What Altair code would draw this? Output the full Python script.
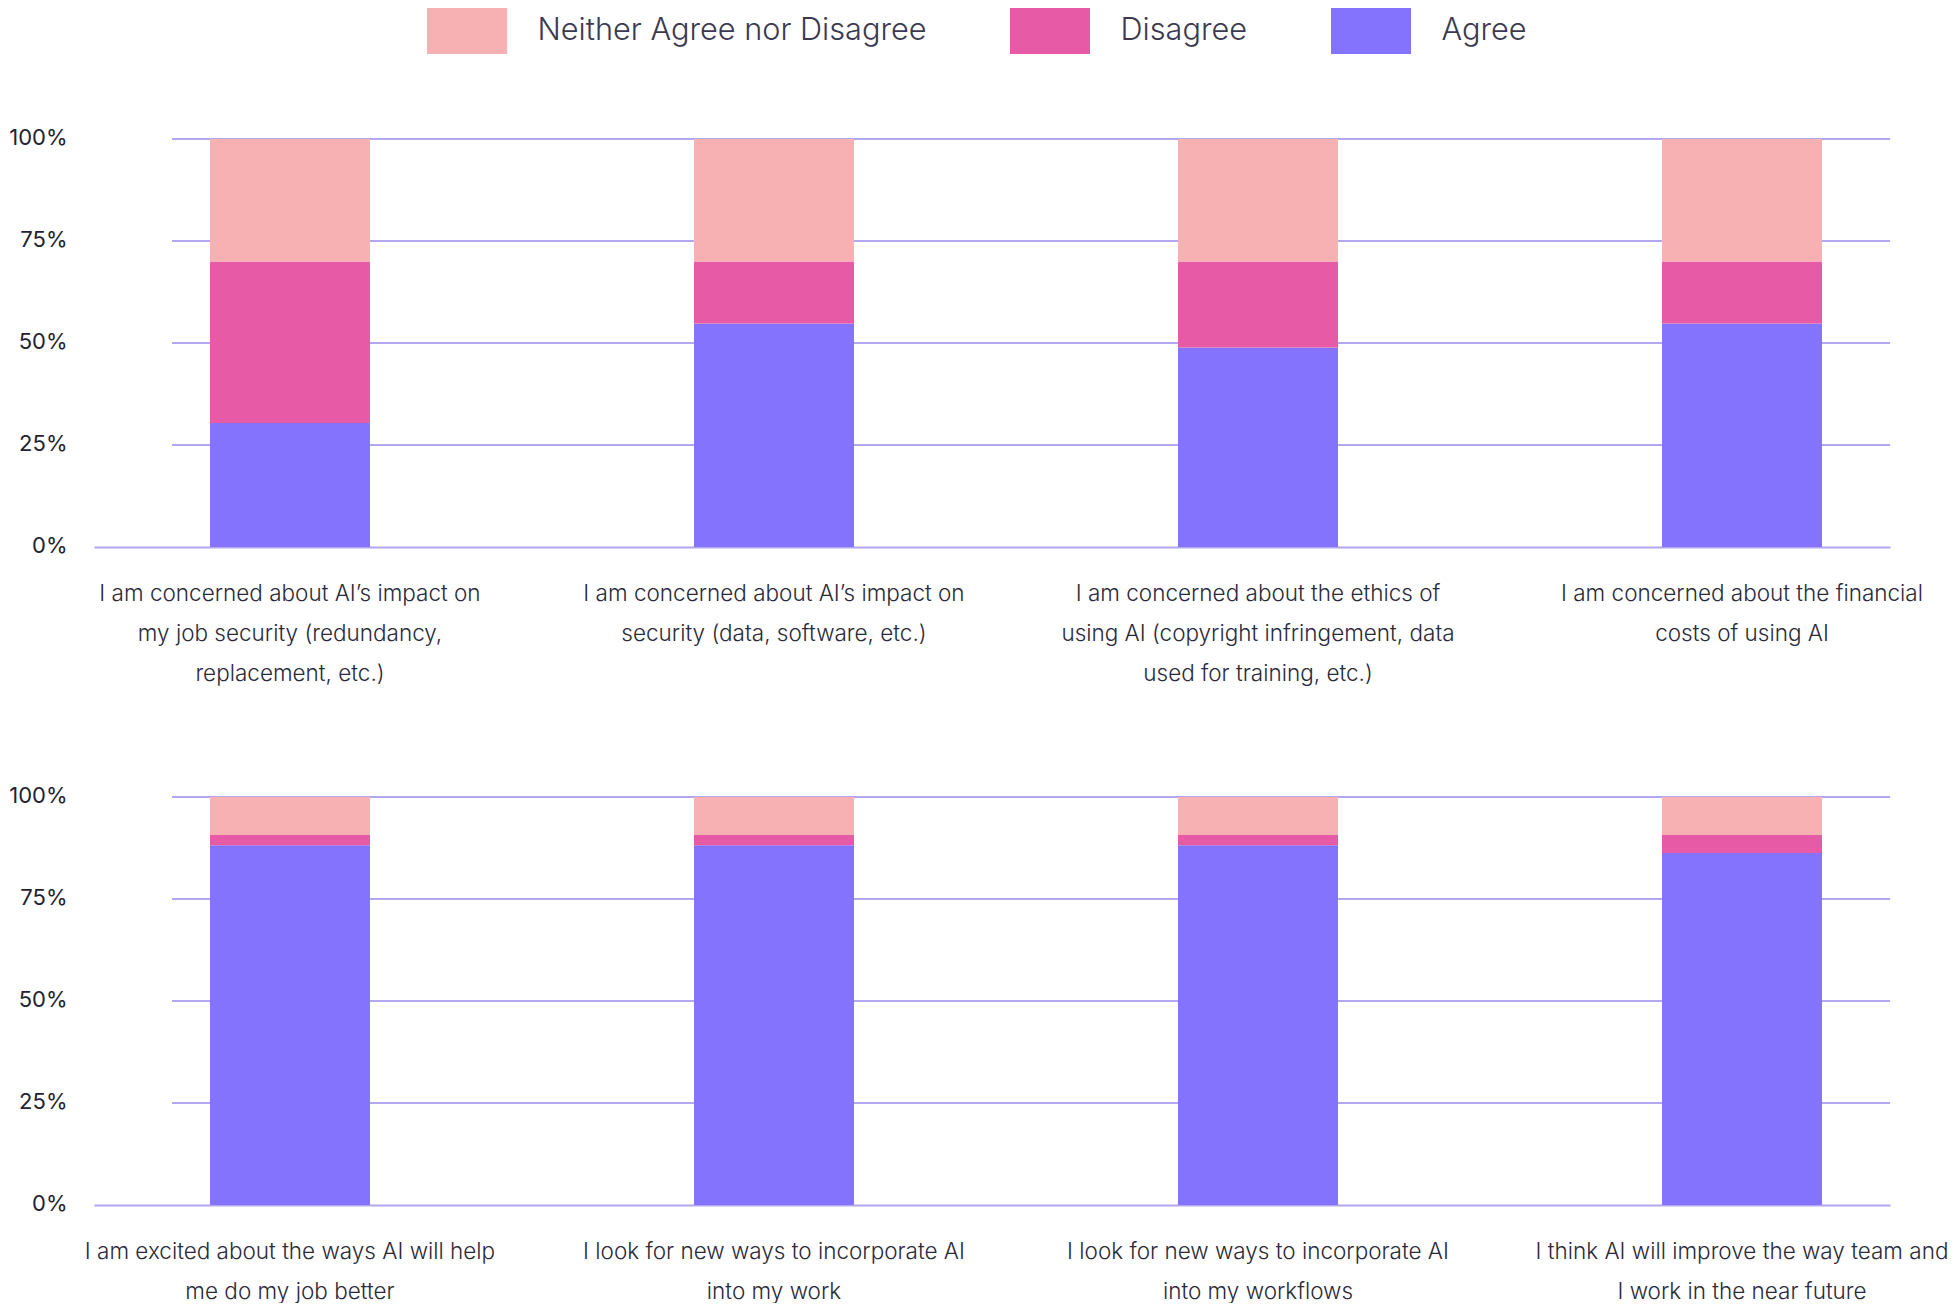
import altair as alt
import pandas as pd

# ---- data ----
series = ["Neither Agree nor Disagree", "Disagree", "Agree"]
series_colors = ["#F8B1B2", "#E75AA5", "#8373FD"]

top_categories = [
    "I am concerned about AI’s impact on|my job security (redundancy,|replacement, etc.)",
    "I am concerned about AI’s impact on|security (data, software, etc.)",
    "I am concerned about the ethics of|using AI (copyright infringement, data|used for training, etc.)",
    "I am concerned about the financial|costs of using AI",
]
top_agree = [30.4, 54.8, 48.9, 54.8]
top_disagree = [39.6, 15.2, 21.1, 15.2]
top_neither = [30.0, 30.0, 30.0, 30.0]

bottom_categories = [
    "I am excited about the ways AI will help|me do my job better",
    "I look for new ways to incorporate AI|into my work",
    "I look for new ways to incorporate AI|into my workflows",
    "I think AI will improve the way team and|I work in the near future",
]
bottom_agree = [88.2, 88.2, 88.2, 86.3]
bottom_disagree = [2.5, 2.5, 2.5, 4.4]
bottom_neither = [9.3, 9.3, 9.3, 9.3]

grid_values = [25, 50, 75, 100]
y_ticks = [0, 25, 50, 75, 100]

# ---- style ----
W, H = 1796, 408
GRID = "#B3A8F0"
FONT = "Inter"

y_scale = alt.Scale(domain=[0, 100], nice=False, zero=True)
y_axis = alt.Axis(
    values=y_ticks, labelExpr="datum.value + '%'", title=None,
    domain=False, ticks=False, grid=False,
    labelFont=FONT, labelFontSize=22, labelColor="#222230",
    labelPadding=27, labelOffset=-2,
)


def panel(cats, agree, disagree, neither):
    rows = []
    for i, c in enumerate(cats):
        for resp, val, o in [("Agree", agree[i], 0),
                             ("Disagree", disagree[i], 1),
                             ("Neither Agree nor Disagree", neither[i], 2)]:
            rows.append({"question": c, "response": resp, "value": val, "order": o})
    df = pd.DataFrame(rows)

    grid = alt.Chart(pd.DataFrame({"value": grid_values})).mark_rule(
        color=GRID, strokeWidth=2
    ).encode(
        y=alt.Y("value:Q", scale=y_scale, axis=y_axis),
        x=alt.value(78),
        x2=alt.value(W),
    )

    bars = alt.Chart(df).mark_bar(strokeWidth=0).encode(
        x=alt.X(
            "question:N", sort=cats,
            scale=alt.Scale(paddingInner=0.66942, paddingOuter=0.19006, align=0.6304),
            axis=alt.Axis(
                title=None, labelAngle=0, ticks=False, grid=False,
                domain=True, domainColor=GRID, domainWidth=2,
                labelExpr="split(datum.label, '|')",
                labelFont=FONT, labelFontSize=22.5, labelFontWeight=300,
                labelColor="#2a2a3a",
                labelLineHeight=40, labelPadding=35, labelBaseline="top",
                labelLimit=1000,
            ),
        ),
        y=alt.Y("value:Q", stack="zero", scale=y_scale, axis=y_axis),
        color=alt.Color(
            "response:N",
            scale=alt.Scale(domain=series, range=series_colors),
            legend=alt.Legend(
                title=None, orient="none", legendX=350, legendY=-131,
                direction="horizontal",
                symbolType="M-1.739,-1H1.739V1H-1.739Z", symbolSize=2116,
                symbolStrokeWidth=0, symbolOpacity=1,
                labelFont=FONT, labelFontSize=30.7, labelFontWeight=300,
                labelColor="#3a3950",
                labelOffset=47.5, columnPadding=83, padding=0, labelLimit=1000,
            ),
        ),
        order=alt.Order("order:Q"),
    )
    return alt.layer(grid, bars).properties(width=W, height=H)


top = panel(top_categories, top_agree, top_disagree, top_neither)
bottom = panel(bottom_categories, bottom_agree, bottom_disagree, bottom_neither)

chart = alt.vconcat(top, bottom, spacing=99).properties(
    padding={"left": 0, "top": 0, "right": 0, "bottom": 0}
).configure(font=FONT).configure_view(stroke=None)

chart.save("out.html", embed_options={"renderer": "svg", "actions": False})
